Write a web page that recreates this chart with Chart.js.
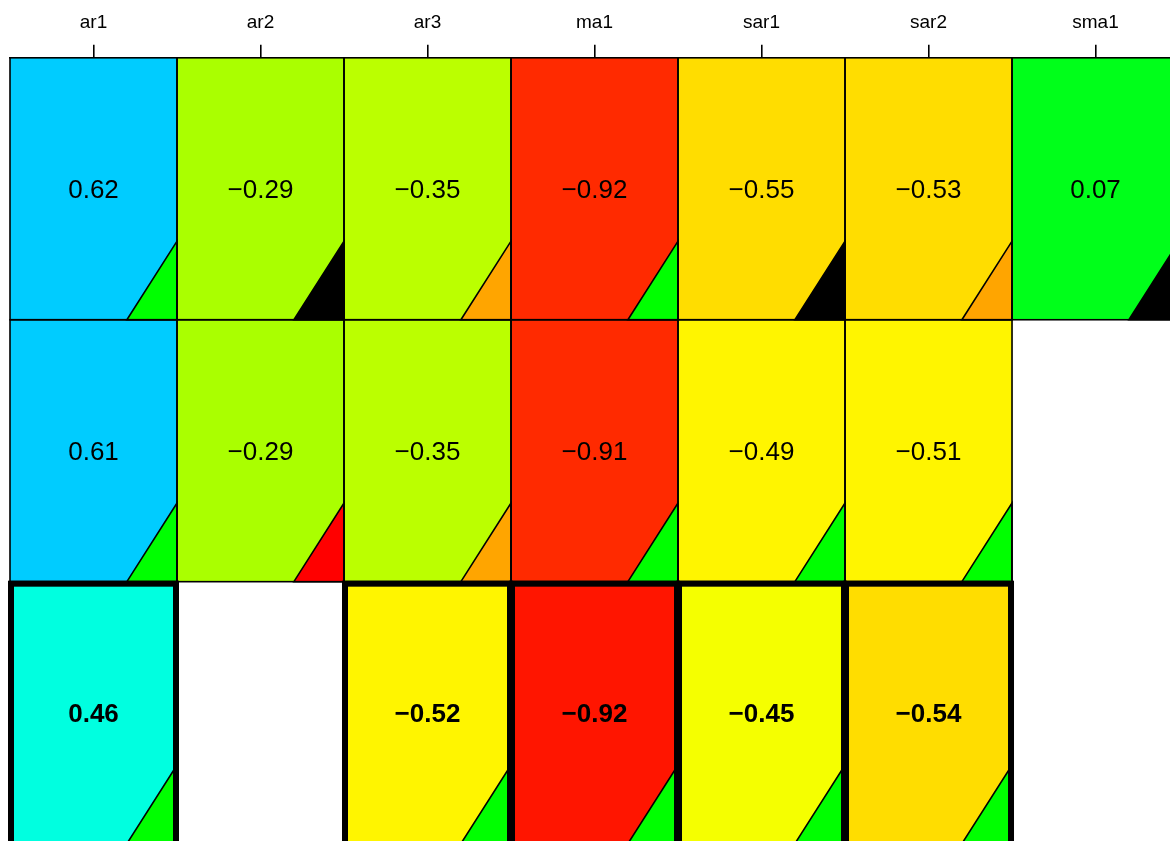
<!DOCTYPE html>
<html>
<head>
<meta charset="utf-8">
<script src="https://cdn.jsdelivr.net/npm/chart.js@4"></script>
<style>
  html, body { margin: 0; padding: 0; background: #fff; }
  #wrap { width: 1170px; height: 841px; position: relative; }
</style>
</head>
<body>
<div id="wrap"><canvas id="grid-chart"></canvas></div>
<script>
// Colonnes et valeurs
const labels = ['ar1', 'ar2', 'ar3', 'ma1', 'sar1', 'sar2', 'sma1'];

const row1Values = [0.62, -0.29, -0.35, -0.92, -0.55, -0.53, 0.07];
const row2Values = [0.61, -0.29, -0.35, -0.91, -0.49, -0.51, null];
const row3Values = [0.46, null, -0.52, -0.92, -0.45, -0.54, null];

const row1Colors = ['#00CCFF', '#AAFF00', '#BBFF00', '#FF2A00', '#FFDD00', '#FFDD00', '#00FF1A'];
const row2Colors = ['#00CCFF', '#AAFF00', '#BBFF00', '#FF2A00', '#FFF500', '#FFF500', null];
const row3Colors = ['#00FFE0', null, '#FFF500', '#FF1500', '#F5FF00', '#FFDD00', null];

// Couleur du petit triangle en bas à droite de chaque case
const row1Corners = ['#00FF00', '#000000', '#FFA500', '#00FF00', '#000000', '#FFA500', '#000000'];
const row2Corners = ['#00FF00', '#FF0000', '#FFA500', '#00FF00', '#00FF00', '#00FF00', null];
const row3Corners = ['#00FF00', null, '#00FF00', '#00FF00', '#00FF00', '#00FF00', null];

const rows = [
    { values: row1Values, colors: row1Colors, corners: row1Corners, bold: false },
    { values: row2Values, colors: row2Colors, corners: row2Corners, bold: false },
    { values: row3Values, colors: row3Colors, corners: row3Corners, bold: true }
];

const FONT = '"Liberation Sans", Arial, Helvetica, sans-serif';

function fmt(v) {
    const s = v.toFixed(2);
    return v < 0 ? '\u2212' + s.slice(1) : s;
}

// Construit un jeu de données par ligne (barres flottantes)
const datasets = rows.map((row, r) => ({
    data: row.values
        .map((v, i) => (v === null ? null : { x: i, y: [r, r + 1], v: v }))
        .filter(d => d !== null),
    backgroundColor: (ctx) => ctx.raw ? row.colors[ctx.raw.x] : 'transparent',
    borderWidth: 0,
    grouped: false,
    barPercentage: 1,
    categoryPercentage: 1
}));

/**
 * Dessine les triangles, les contours et les valeurs de chaque case
 */
const cellDecor = {
    id: 'cellDecor',
    afterDatasetsDraw(chart) {
        const c = chart.ctx;
        c.save();
        chart.data.datasets.forEach((ds, r) => {
            const row = rows[r];
            const meta = chart.getDatasetMeta(r);
            meta.data.forEach((bar, j) => {
                const raw = ds.data[j];
                const p = bar.getProps(['x', 'y', 'base', 'width'], true);
                const left = p.x - p.width / 2;
                const right = p.x + p.width / 2;
                const top = Math.min(p.y, p.base);
                const bottom = Math.max(p.y, p.base);
                const w = right - left;
                const h = bottom - top;

                // triangle du coin
                c.beginPath();
                c.moveTo(right - 0.3 * w, bottom);
                c.lineTo(right, bottom - 0.3 * h);
                c.lineTo(right, bottom);
                c.closePath();
                c.fillStyle = row.corners[raw.x];
                c.fill();
                c.lineWidth = 1.6;
                c.strokeStyle = '#000';
                c.stroke();

                // contour de la case
                c.strokeRect(left, top, w, h);

                // valeur
                c.fillStyle = '#000';
                c.font = (row.bold ? 'bold ' : '') + '26px ' + FONT;
                c.textAlign = 'center';
                c.textBaseline = 'middle';
                c.fillText(fmt(raw.v), p.x, top + h / 2 + 2);

                if (row.bold) {
                    c.lineWidth = 6;
                    c.strokeRect(left + 1, top + 2, w - 2, h);
                }
            });
        });
        c.restore();
    }
};

new Chart(document.getElementById('grid-chart'), {
    type: 'bar',
    data: { datasets: datasets },
    plugins: [cellDecor],
    options: {
        responsive: true,
        maintainAspectRatio: false,
        animation: false,
        layout: { padding: { left: 10, right: 0, top: 0, bottom: 0 } },
        plugins: {
            legend: { display: false },
            tooltip: { enabled: false }
        },
        scales: {
            x: {
                type: 'linear',
                position: 'top',
                min: -0.5,
                max: 6.446,
                offset: false,
                afterBuildTicks: (scale) => {
                    scale.ticks = labels.map((_, i) => ({ value: i }));
                },
                ticks: {
                    callback: (v) => labels[v],
                    color: '#000',
                    font: { size: 19, family: FONT },
                    padding: 11,
                    maxRotation: 0,
                    autoSkip: false
                },
                grid: {
                    offset: false,
                    drawOnChartArea: false,
                    drawTicks: true,
                    tickLength: 13,
                    color: '#000',
                    lineWidth: 1.6
                },
                border: { display: true, color: '#000', width: 1.6 }
            },
            y: {
                type: 'linear',
                reverse: true,
                min: 0,
                max: 2.99,
                display: false
            }
        }
    }
});
</script>
</body>
</html>
